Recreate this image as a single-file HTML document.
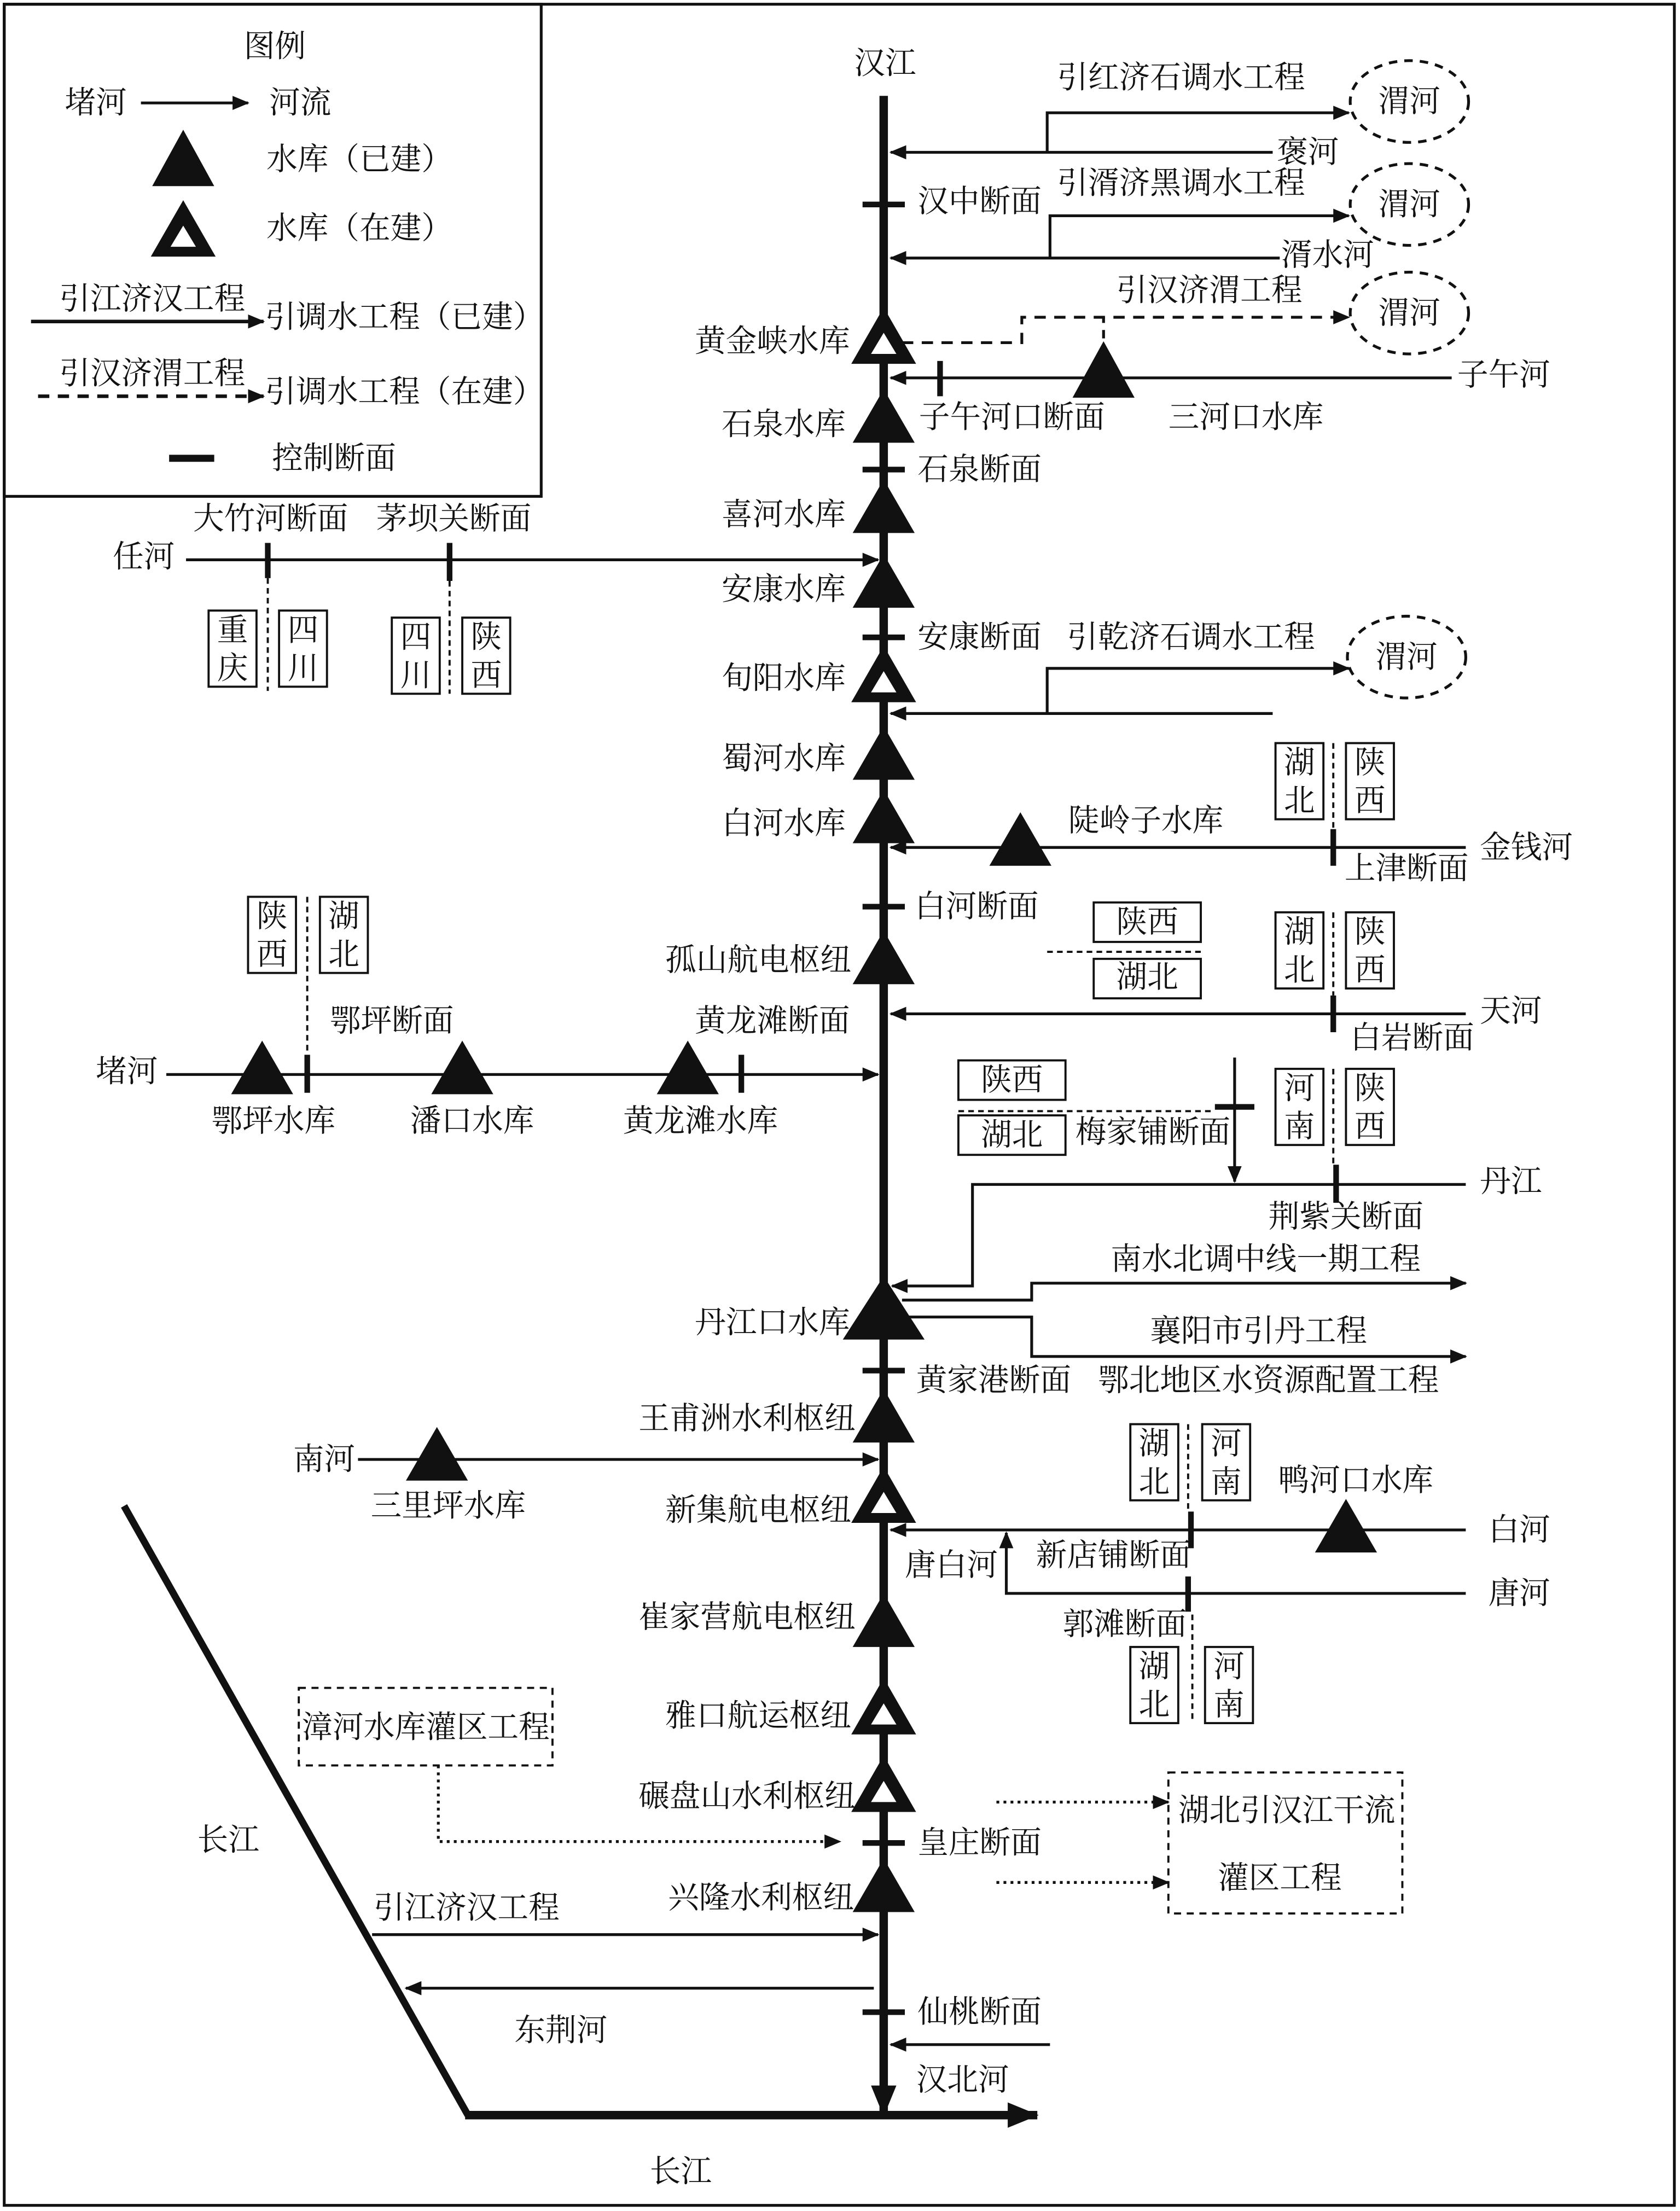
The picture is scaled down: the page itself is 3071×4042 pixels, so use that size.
<!DOCTYPE html>
<html><head><meta charset="utf-8"><style>
html,body{margin:0;padding:0;background:#fff}
svg{display:block}
text{font-family:"Liberation Serif","Noto Serif CJK SC","Noto Sans CJK SC",serif;font-size:22px;fill:#111;text-anchor:middle;dominant-baseline:central}
</style></head><body>
<svg width="3071" height="4042" viewBox="0 0 1192 1568" preserveAspectRatio="none" xmlns="http://www.w3.org/2000/svg">
<defs>
<marker id="a" markerWidth="12" markerHeight="10" refX="11" refY="5" orient="auto" markerUnits="userSpaceOnUse"><path d="M0,0 L12,5 L0,10 Z" fill="#111"/></marker>
<marker id="b" markerWidth="22" markerHeight="18" refX="21" refY="9" orient="auto" markerUnits="userSpaceOnUse"><path d="M0,0 L22,9 L0,18 Z" fill="#111"/></marker>
</defs>
<rect x="3" y="3" width="1185" height="1561" fill="none" stroke="#111" stroke-width="2"/>
<!-- legend -->
<rect x="3" y="3" width="381" height="349" fill="none" stroke="#111" stroke-width="2"/>
<text x="195" y="33">图例</text>
<text x="68" y="73">堵河</text>
<line x1="100" y1="73" x2="176" y2="73" stroke="#111" stroke-width="2" marker-end="url(#a)"/>
<text x="213" y="73">河流</text>
<path d="M130,92 L152,132 L108,132 Z" fill="#111"/>
<text x="255" y="113">水库（已建）</text>
<path d="M130,142 L153,182 L107,182 Z" fill="#111"/><path d="M130,160 L139,175 L121,175 Z" fill="#fff"/>
<text x="255" y="162">水库（在建）</text>
<text x="108" y="212">引江济汉工程</text>
<line x1="22" y1="228" x2="187" y2="228" stroke="#111" stroke-width="2.5" marker-end="url(#a)"/>
<text x="287" y="225">引调水工程（已建）</text>
<text x="108" y="265">引汉济渭工程</text>
<line x1="27" y1="281" x2="187" y2="281" stroke="#111" stroke-width="2.5" stroke-dasharray="8,6" marker-end="url(#a)"/>
<text x="287" y="278">引调水工程（在建）</text>
<line x1="120" y1="325" x2="152" y2="325" stroke="#111" stroke-width="5"/>
<text x="237" y="325">控制断面</text>

<!-- trunk -->
<line x1="627" y1="68" x2="627" y2="1500" stroke="#111" stroke-width="6" marker-end="url(#b)"/>
<text x="628" y="45">汉江</text>
<line x1="88" y1="1068" x2="332" y2="1500" stroke="#111" stroke-width="5"/>
<line x1="330" y1="1500" x2="736" y2="1500" stroke="#111" stroke-width="6" marker-end="url(#b)"/>
<text x="162" y="1305">长江</text>
<text x="483" y="1540">长江</text>

<g stroke="#111" stroke-width="2" fill="none">
<line x1="903" y1="108" x2="632" y2="108" marker-end="url(#a)"/>
<polyline points="743,108 743,80 957,80" marker-end="url(#a)"/>
<line x1="908" y1="183" x2="632" y2="183" marker-end="url(#a)"/>
<polyline points="745,183 745,153 957,153" marker-end="url(#a)"/>
<polyline points="640,243 725,243 725,225 957,225" stroke-dasharray="8,6" marker-end="url(#a)"/>
<line x1="783" y1="240" x2="783" y2="225" stroke-dasharray="6,5"/>
<line x1="1030" y1="268" x2="632" y2="268" marker-end="url(#a)"/>
<line x1="132" y1="397" x2="623" y2="397" marker-end="url(#a)"/>
<line x1="190" y1="410" x2="190" y2="490" stroke-dasharray="4,3" stroke-width="1.5"/>
<line x1="319" y1="412" x2="319" y2="492" stroke-dasharray="4,3" stroke-width="1.5"/>
<line x1="903" y1="506" x2="632" y2="506" marker-end="url(#a)"/>
<polyline points="743,506 743,474 957,474" marker-end="url(#a)"/>
<line x1="1040" y1="601" x2="632" y2="601" marker-end="url(#a)"/>
<line x1="946" y1="527" x2="946" y2="588" stroke-dasharray="4,3" stroke-width="1.5"/>
<line x1="946" y1="647" x2="946" y2="706" stroke-dasharray="4,3" stroke-width="1.5"/>
<line x1="743" y1="675" x2="852" y2="675" stroke-dasharray="4,3" stroke-width="1.5"/>
<line x1="1040" y1="719" x2="632" y2="719" marker-end="url(#a)"/>
<line x1="118" y1="762" x2="623" y2="762" marker-end="url(#a)"/>
<line x1="218" y1="636" x2="218" y2="748" stroke-dasharray="4,3" stroke-width="1.5"/>
<line x1="680" y1="788" x2="862" y2="788" stroke-dasharray="4,3" stroke-width="1.5"/>
<line x1="876" y1="750" x2="876" y2="838" marker-end="url(#a)"/>
<line x1="946" y1="758" x2="946" y2="828" stroke-dasharray="4,3" stroke-width="1.5"/>
<polyline points="1040,840 690,840 690,912 633,912" marker-end="url(#a)"/>
<polyline points="640,922 732,922 732,910 1040,910" marker-end="url(#a)"/>
<polyline points="640,934 732,934 732,962 1040,962" marker-end="url(#a)"/>
<line x1="254" y1="1035" x2="623" y2="1035" marker-end="url(#a)"/>
<line x1="843" y1="1010" x2="843" y2="1070" stroke-dasharray="4,3" stroke-width="1.5"/>
<line x1="1040" y1="1085" x2="632" y2="1085" marker-end="url(#a)"/>
<polyline points="1040,1130 714,1130 714,1087" marker-end="url(#a)"/>
<line x1="846" y1="1145" x2="846" y2="1222" stroke-dasharray="4,3" stroke-width="1.5"/>
<rect x="212" y="1197" width="180" height="55" stroke-dasharray="5,4" stroke-width="1.5"/>
<polyline points="311,1252 311,1306 596,1306" stroke-dasharray="2,3" marker-end="url(#a)"/>
<rect x="829" y="1257" width="166" height="100" stroke-dasharray="5,4" stroke-width="1.5"/>
<line x1="707" y1="1278" x2="829" y2="1278" stroke-dasharray="2,3" marker-end="url(#a)"/>
<line x1="707" y1="1335" x2="829" y2="1335" stroke-dasharray="2,3" marker-end="url(#a)"/>
<line x1="264" y1="1372" x2="623" y2="1372" marker-end="url(#a)"/>
<line x1="620" y1="1410" x2="288" y2="1410" marker-end="url(#a)"/>
<line x1="745" y1="1450" x2="632" y2="1450" marker-end="url(#a)"/>
<ellipse cx="1000" cy="72" rx="42" ry="29" stroke-dasharray="6,5"/>
<ellipse cx="1000" cy="145" rx="42" ry="29" stroke-dasharray="6,5"/>
<ellipse cx="1000" cy="222" rx="42" ry="29" stroke-dasharray="6,5"/>
<ellipse cx="998" cy="466" rx="42" ry="29" stroke-dasharray="6,5"/>
<rect x="148" y="433" width="34" height="54" stroke-width="1.5"/>
<rect x="198" y="433" width="34" height="54" stroke-width="1.5"/>
<rect x="278" y="438" width="34" height="54" stroke-width="1.5"/>
<rect x="328" y="438" width="34" height="54" stroke-width="1.5"/>
<rect x="905" y="527" width="34" height="54" stroke-width="1.5"/>
<rect x="955" y="527" width="34" height="54" stroke-width="1.5"/>
<rect x="176" y="636" width="34" height="54" stroke-width="1.5"/>
<rect x="227" y="636" width="34" height="54" stroke-width="1.5"/>
<rect x="776" y="640" width="76" height="28" stroke-width="1.5"/>
<rect x="776" y="680" width="76" height="28" stroke-width="1.5"/>
<rect x="905" y="647" width="34" height="54" stroke-width="1.5"/>
<rect x="955" y="647" width="34" height="54" stroke-width="1.5"/>
<rect x="680" y="752" width="76" height="28" stroke-width="1.5"/>
<rect x="680" y="791" width="76" height="28" stroke-width="1.5"/>
<rect x="905" y="758" width="34" height="54" stroke-width="1.5"/>
<rect x="955" y="758" width="34" height="54" stroke-width="1.5"/>
<rect x="802" y="1010" width="34" height="54" stroke-width="1.5"/>
<rect x="853" y="1010" width="34" height="54" stroke-width="1.5"/>
<rect x="802" y="1168" width="34" height="54" stroke-width="1.5"/>
<rect x="855" y="1168" width="34" height="54" stroke-width="1.5"/>
</g>

<g stroke="#111" stroke-width="4">
<line x1="612" y1="145" x2="642" y2="145"/>
<line x1="612" y1="333" x2="642" y2="333"/>
<line x1="612" y1="452" x2="642" y2="452"/>
<line x1="612" y1="643" x2="642" y2="643"/>
<line x1="612" y1="972" x2="642" y2="972"/>
<line x1="612" y1="1307" x2="642" y2="1307"/>
<line x1="612" y1="1427" x2="642" y2="1427"/>
<line x1="667" y1="256" x2="667" y2="281"/>
<line x1="190" y1="385" x2="190" y2="410"/>
<line x1="319" y1="385" x2="319" y2="412"/>
<line x1="946" y1="588" x2="946" y2="614"/>
<line x1="946" y1="706" x2="946" y2="732"/>
<line x1="218" y1="748" x2="218" y2="775"/>
<line x1="526" y1="748" x2="526" y2="775"/>
<line x1="862" y1="785" x2="890" y2="785"/>
<line x1="948" y1="826" x2="948" y2="853"/>
<line x1="845" y1="1072" x2="845" y2="1098"/>
<line x1="843" y1="1118" x2="843" y2="1143"/>
</g>

<g fill="#111">
<path d="M783,242 L805,282 L761,282 Z"/>
<path d="M627,276 L649,314 L605,314 Z"/>
<path d="M627,340 L649,378 L605,378 Z"/>
<path d="M627,393 L649,431 L605,431 Z"/>
<path d="M627,515 L649,553 L605,553 Z"/>
<path d="M627,560 L649,598 L605,598 Z"/>
<path d="M724,576 L746,614 L702,614 Z"/>
<path d="M627,660 L649,698 L605,698 Z"/>
<path d="M186,738 L208,776 L164,776 Z"/>
<path d="M328,738 L350,776 L306,776 Z"/>
<path d="M488,738 L510,776 L466,776 Z"/>
<path d="M627,905 L656,950 L598,950 Z"/>
<path d="M627,985 L649,1023 L605,1023 Z"/>
<path d="M310,1012 L332,1050 L288,1050 Z"/>
<path d="M955,1063 L977,1101 L933,1101 Z"/>
<path d="M627,1130 L649,1168 L605,1168 Z"/>
<path d="M627,1318 L649,1356 L605,1356 Z"/>
</g>
<g>
<path d="M627,218 L650,258 L604,258 Z" fill="#111"/><path d="M627,236 L636,251 L618,251 Z" fill="#fff"/>
<path d="M627,458 L650,498 L604,498 Z" fill="#111"/><path d="M627,476 L636,491 L618,491 Z" fill="#fff"/>
<path d="M627,1040 L650,1080 L604,1080 Z" fill="#111"/><path d="M627,1058 L636,1073 L618,1073 Z" fill="#fff"/>
<path d="M627,1190 L650,1230 L604,1230 Z" fill="#111"/><path d="M627,1208 L636,1223 L618,1223 Z" fill="#fff"/>
<path d="M627,1245 L650,1285 L604,1285 Z" fill="#111"/><path d="M627,1263 L636,1278 L618,1278 Z" fill="#fff"/>
</g>

<text x="838" y="55">引红济石调水工程</text>
<text x="1000" y="72">渭河</text>
<text x="928" y="108">褒河</text>
<text x="695" y="143">汉中断面</text>
<text x="838" y="130">引湑济黑调水工程</text>
<text x="1000" y="145">渭河</text>
<text x="942" y="181">湑水河</text>
<text x="858" y="206">引汉济渭工程</text>
<text x="1000" y="222">渭河</text>
<text x="548" y="242">黄金峡水库</text>
<text x="1067" y="266">子午河</text>
<text x="718" y="296">子午河口断面</text>
<text x="884" y="296">三河口水库</text>
<text x="556" y="301">石泉水库</text>
<text x="695" y="333">石泉断面</text>
<text x="556" y="365">喜河水库</text>
<text x="192" y="368">大竹河断面</text>
<text x="322" y="368">茅坝关断面</text>
<text x="102" y="395">任河</text>
<text x="556" y="418">安康水库</text>
<text x="695" y="452">安康断面</text>
<text x="845" y="452">引乾济石调水工程</text>
<text x="998" y="466">渭河</text>
<text x="556" y="481">旬阳水库</text>
<text x="556" y="538">蜀河水库</text>
<text x="813" y="582">陡岭子水库</text>
<text x="556" y="584">白河水库</text>
<text x="998" y="616">上津断面</text>
<text x="1083" y="601">金钱河</text>
<text x="693" y="643">白河断面</text>
<text x="538" y="681">孤山航电枢纽</text>
<text x="814" y="654">陕西</text>
<text x="814" y="693">湖北</text>
<text x="1002" y="736">白岩断面</text>
<text x="1072" y="717">天河</text>
<text x="548" y="724">黄龙滩断面</text>
<text x="278" y="724">鄂坪断面</text>
<text x="90" y="760">堵河</text>
<text x="194" y="795">鄂坪水库</text>
<text x="335" y="795">潘口水库</text>
<text x="497" y="795">黄龙滩水库</text>
<text x="718" y="766">陕西</text>
<text x="718" y="805">湖北</text>
<text x="818" y="803">梅家铺断面</text>
<text x="955" y="863">荆紫关断面</text>
<text x="1072" y="838">丹江</text>
<text x="898" y="893">南水北调中线一期工程</text>
<text x="548" y="938">丹江口水库</text>
<text x="893" y="944">襄阳市引丹工程</text>
<text x="705" y="979">黄家港断面</text>
<text x="900" y="979">鄂北地区水资源配置工程</text>
<text x="530" y="1006">王甫洲水利枢纽</text>
<text x="230" y="1035">南河</text>
<text x="318" y="1068">三里坪水库</text>
<text x="962" y="1050">鸭河口水库</text>
<text x="538" y="1071">新集航电枢纽</text>
<text x="1078" y="1085">白河</text>
<text x="675" y="1110">唐白河</text>
<text x="790" y="1103">新店铺断面</text>
<text x="1078" y="1130">唐河</text>
<text x="798" y="1152">郭滩断面</text>
<text x="530" y="1147">崔家营航电枢纽</text>
<text x="302" y="1225">漳河水库灌区工程</text>
<text x="538" y="1217">雅口航运枢纽</text>
<text x="530" y="1274">碾盘山水利枢纽</text>
<text x="913" y="1284">湖北引汉江干流</text>
<text x="908" y="1332">灌区工程</text>
<text x="695" y="1307">皇庄断面</text>
<text x="540" y="1346">兴隆水利枢纽</text>
<text x="331" y="1353">引江济汉工程</text>
<text x="398" y="1440">东荆河</text>
<text x="695" y="1427">仙桃断面</text>
<text x="683" y="1475">汉北河</text>

<text x="165" y="447">重</text><text x="165" y="474">庆</text>
<text x="215" y="447">四</text><text x="215" y="474">川</text>
<text x="295" y="452">四</text><text x="295" y="479">川</text>
<text x="345" y="452">陕</text><text x="345" y="479">西</text>
<text x="922" y="541">湖</text><text x="922" y="568">北</text>
<text x="972" y="541">陕</text><text x="972" y="568">西</text>
<text x="193" y="650">陕</text><text x="193" y="677">西</text>
<text x="244" y="650">湖</text><text x="244" y="677">北</text>
<text x="922" y="661">湖</text><text x="922" y="688">北</text>
<text x="972" y="661">陕</text><text x="972" y="688">西</text>
<text x="922" y="772">河</text><text x="922" y="799">南</text>
<text x="972" y="772">陕</text><text x="972" y="799">西</text>
<text x="819" y="1024">湖</text><text x="819" y="1051">北</text>
<text x="870" y="1024">河</text><text x="870" y="1051">南</text>
<text x="819" y="1182">湖</text><text x="819" y="1209">北</text>
<text x="872" y="1182">河</text><text x="872" y="1209">南</text>
</svg>
</body></html>
